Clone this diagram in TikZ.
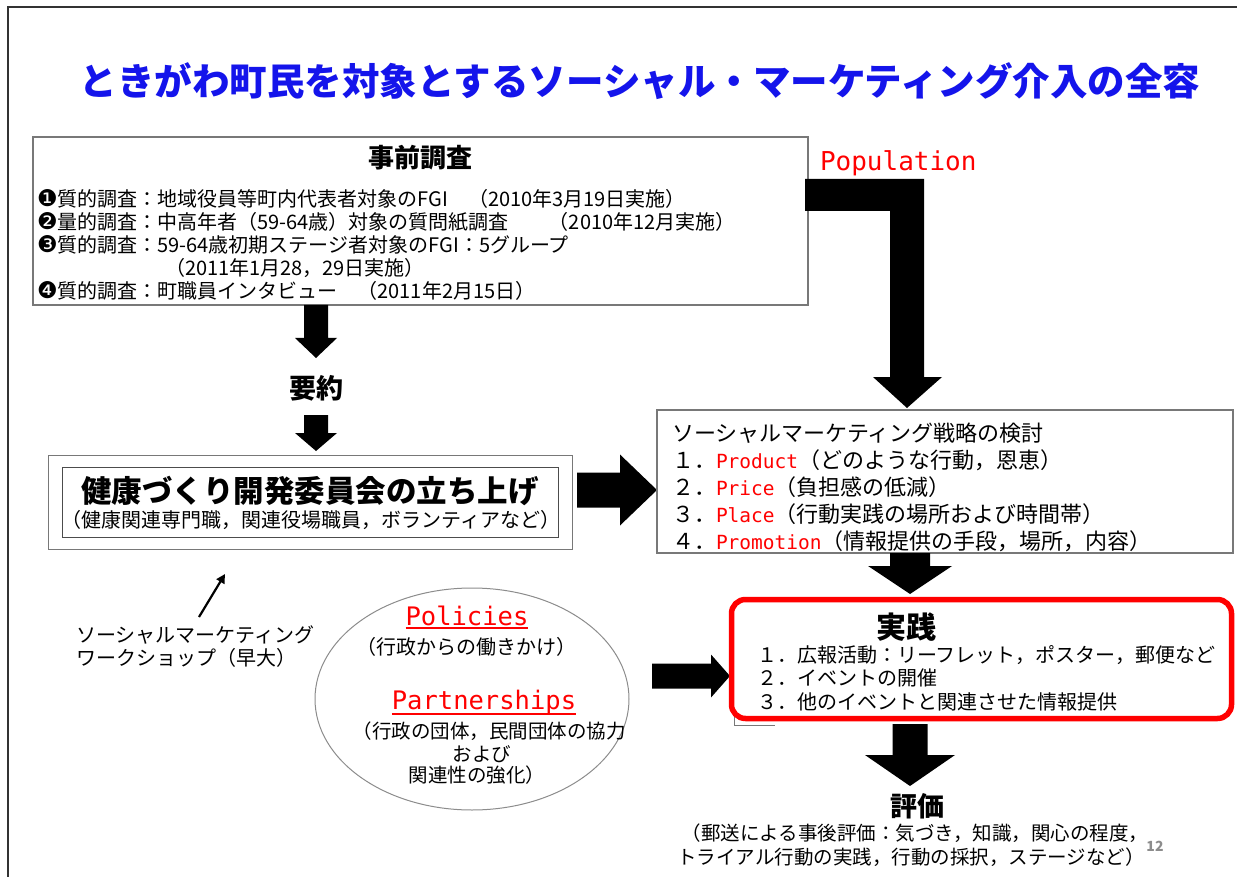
\documentclass[tikz,border=0pt]{standalone}
\usepackage{fontspec}
\setmainfont{Noto Sans CJK JP}
\newfontfamily\monofam{DejaVu Sans Mono}
\newfontfamily\dingfam{DejaVu Sans}
\usetikzlibrary{shapes.geometric,arrows.meta}
\definecolor{ttlblue}{RGB}{20,20,235}
\definecolor{pred}{RGB}{255,0,0}
\definecolor{boxgray}{RGB}{120,120,120}
\newcommand\setfs[1]{\fontsize{#1}{#1}\selectfont}
\newcommand\rw[2]{{\color{pred}\monofam\fontsize{#1}{#1}\selectfont #2}}
\newcommand\dg[1]{{\dingfam\fontsize{23}{23}\selectfont #1}}
% down block arrow: x, ytop, ytip, shaft half, head half, head length
\newcommand\DArrow[6]{\fill[black] ({#1-#4},#2) -- ({#1+#4},#2) -- ({#1+#4},{#3-#6}) -- ({#1+#5},{#3-#6}) -- (#1,#3) -- ({#1-#5},{#3-#6}) -- ({#1-#4},{#3-#6}) -- cycle;}
% right block arrow: y, xleft, xtip, shaft half, head half, head length
\newcommand\RArrow[6]{\fill[black] (#2,{#1-#4}) -- ({#3-#6},{#1-#4}) -- ({#3-#6},{#1-#5}) -- (#3,#1) -- ({#3-#6},{#1+#5}) -- ({#3-#6},{#1+#4}) -- (#2,{#1+#4}) -- cycle;}
\begin{document}
\begin{tikzpicture}[x=1pt,y=-1pt,
  every node/.style={inner sep=0pt,outer sep=0pt},
  lt/.style={anchor=base west},
  ct/.style={anchor=base},
  box/.style={draw=boxgray,line width=1.2pt}]
\useasboundingbox (0,0) rectangle (1237,877);
\fill[white] (0,0) rectangle (1237,877);
\draw[line width=1.3pt,black!80] (8,877) -- (8,7) -- (1237,7);

% title
\node[ct,font=\bfseries\setfs{37.5},text=ttlblue] (title) at (640,96) {ときがわ町民を対象とするソーシャル・マーケティング介入の全容};

% pre-survey box
\node[box,anchor=north west,minimum width=775,minimum height=168] (pre) at (33,137) {};
\node[ct,font=\bfseries\setfs{26}] (preT) at (420,168) {事前調査};
\begin{scope}[every node/.append style={font=\setfs{20}}]
\node[lt] (pre1) at (37,207) {\dg{❶}質的調査：地域役員等町内代表者対象のFGI　（2010年3月19日実施）};
\node[lt] (pre2) at (37,230) {\dg{❷}量的調査：中高年者（59-64歳）対象の質問紙調査　　（2010年12月実施）};
\node[lt] (pre3) at (37,253) {\dg{❸}質的調査：59-64歳初期ステージ者対象のFGI：5グループ};
\node[lt] (pre3b) at (165,276) {（2011年1月28，29日実施）};
\node[lt] (pre4) at (37,299) {\dg{❹}質的調査：町職員インタビュー　（2011年2月15日）};
\end{scope}

% Population
\node[lt,font=\monofam\setfs{26},text=pred] (pop) at (820,171) {Population};
\fill[black] (805,179) -- (924,179) -- (924,377) -- (942,377) -- (907,408) -- (873,377) -- (890,377) -- (890,211) -- (805,211) -- cycle;

% summary
\DArrow{316}{305}{358}{12}{21}{20}
\node[ct,font=\bfseries\setfs{27}] (yoyaku) at (316,398) {要約};
\DArrow{316}{415}{451}{12}{21}{18}

% committee
\node[draw=boxgray,line width=1pt,anchor=north west,minimum width=524,minimum height=94] (comm) at (48,455) {};
\node[draw=black!70,line width=1pt,anchor=north west,minimum width=496,minimum height=70] (commIn) at (62,467) {};
\node[ct,font=\bfseries\setfs{30.5}] (commT) at (310,502) {健康づくり開発委員会の立ち上げ};
\node[ct,font=\setfs{20}] (commS) at (311,527) {（健康関連専門職，関連役場職員，ボランティアなど）};

\RArrow{490}{577}{657}{17.5}{35.5}{37}

% strategy box
\node[box,anchor=north west,minimum width=576,minimum height=143] (strat) at (657,410) {};
\begin{scope}[every node/.append style={font=\setfs{22}}]
\node[lt] (s0) at (672,441) {ソーシャルマーケティング戦略の検討};
\node[lt] (s1) at (672,468) {１．\rw{19.5}{Product}（どのような行動，恩恵）};
\node[lt] (s2) at (672,495) {２．\rw{19.5}{Price}（負担感の低減）};
\node[lt] (s3) at (672,522) {３．\rw{19.5}{Place}（行動実践の場所および時間帯）};
\node[lt] (s4) at (672,549) {４．\rw{19.5}{Promotion}（情報提供の手段，場所，内容）};
\end{scope}

\DArrow{910}{553}{594}{20}{42}{28}

% workshop
\node[lt,font=\setfs{20}] (ws1) at (76,642) {ソーシャルマーケティング};
\node[lt,font=\setfs{20}] (ws2) at (76,665) {ワークショップ（早大）};
\coordinate (wsTail) at (199,617);
\coordinate (wsTip) at (225,574);
\draw[line width=2.2pt,-{Triangle[length=9pt,width=9pt]}] (wsTail) -- (wsTip);

% ellipse
\node[ellipse,draw=black!45,line width=1pt,minimum width=314,minimum height=222] (pp) at (472,699) {};
\node[ct,font=\monofam\setfs{25.5},text=pred] (pol) at (467,625) {Policies};
\draw[pred,line width=1.3pt] ([yshift=-3pt]pol.base west) -- ([yshift=-3pt]pol.base east);
\node[ct,font=\setfs{20}] (polS) at (466,654) {（行政からの働きかけ）};
\node[ct,font=\monofam\setfs{25.5},text=pred] (par) at (484,709) {Partnerships};
\draw[pred,line width=1.3pt] ([yshift=-5pt]par.base west) -- ([yshift=-5pt]par.base east);
\node[ct,font=\setfs{19.5}] (parS1) at (489,738) {（行政の団体，民間団体の協力};
\node[ct,font=\setfs{19.5}] (parS2) at (482,761) {および};
\node[ct,font=\setfs{19.5}] (parS3) at (477,782) {関連性の強化）};

\RArrow{676}{652}{730}{12.5}{21.5}{19}

% practice box
\draw[boxgray,line width=1pt] (734,690) -- (734,725) -- (775,725);
\node[draw=pred,line width=5.5pt,rounded corners=14pt,fill=white,anchor=north west,minimum width=500,minimum height=119] (jis) at (731.5,599.5) {};
\node[ct,font=\bfseries\setfs{30}] (jisT) at (906,638) {実践};
\begin{scope}[every node/.append style={font=\setfs{20}}]
\node[lt] (j1) at (757,662) {１．広報活動：リーフレット，ポスター，郵便など};
\node[lt] (j2) at (757,685) {２．イベントの開催};
\node[lt] (j3) at (757,709) {３．他のイベントと関連させた情報提供};
\end{scope}

\DArrow{910}{724}{786}{17.5}{45}{31}

% evaluation
\node[ct,font=\bfseries\setfs{27}] (hyo) at (917,816) {評価};
\node[ct,font=\setfs{19.5}] (hyo1) at (915,840) {（郵送による事後評価：気づき，知識，関心の程度，};
\node[ct,font=\setfs{19.5}] (hyo2) at (911,864) {トライアル行動の実践，行動の採択，ステージなど）};
\node[ct,font=\bfseries\setfs{14},text=black!45] (pnum) at (1155,851) {12};
\end{tikzpicture}
\end{document}
